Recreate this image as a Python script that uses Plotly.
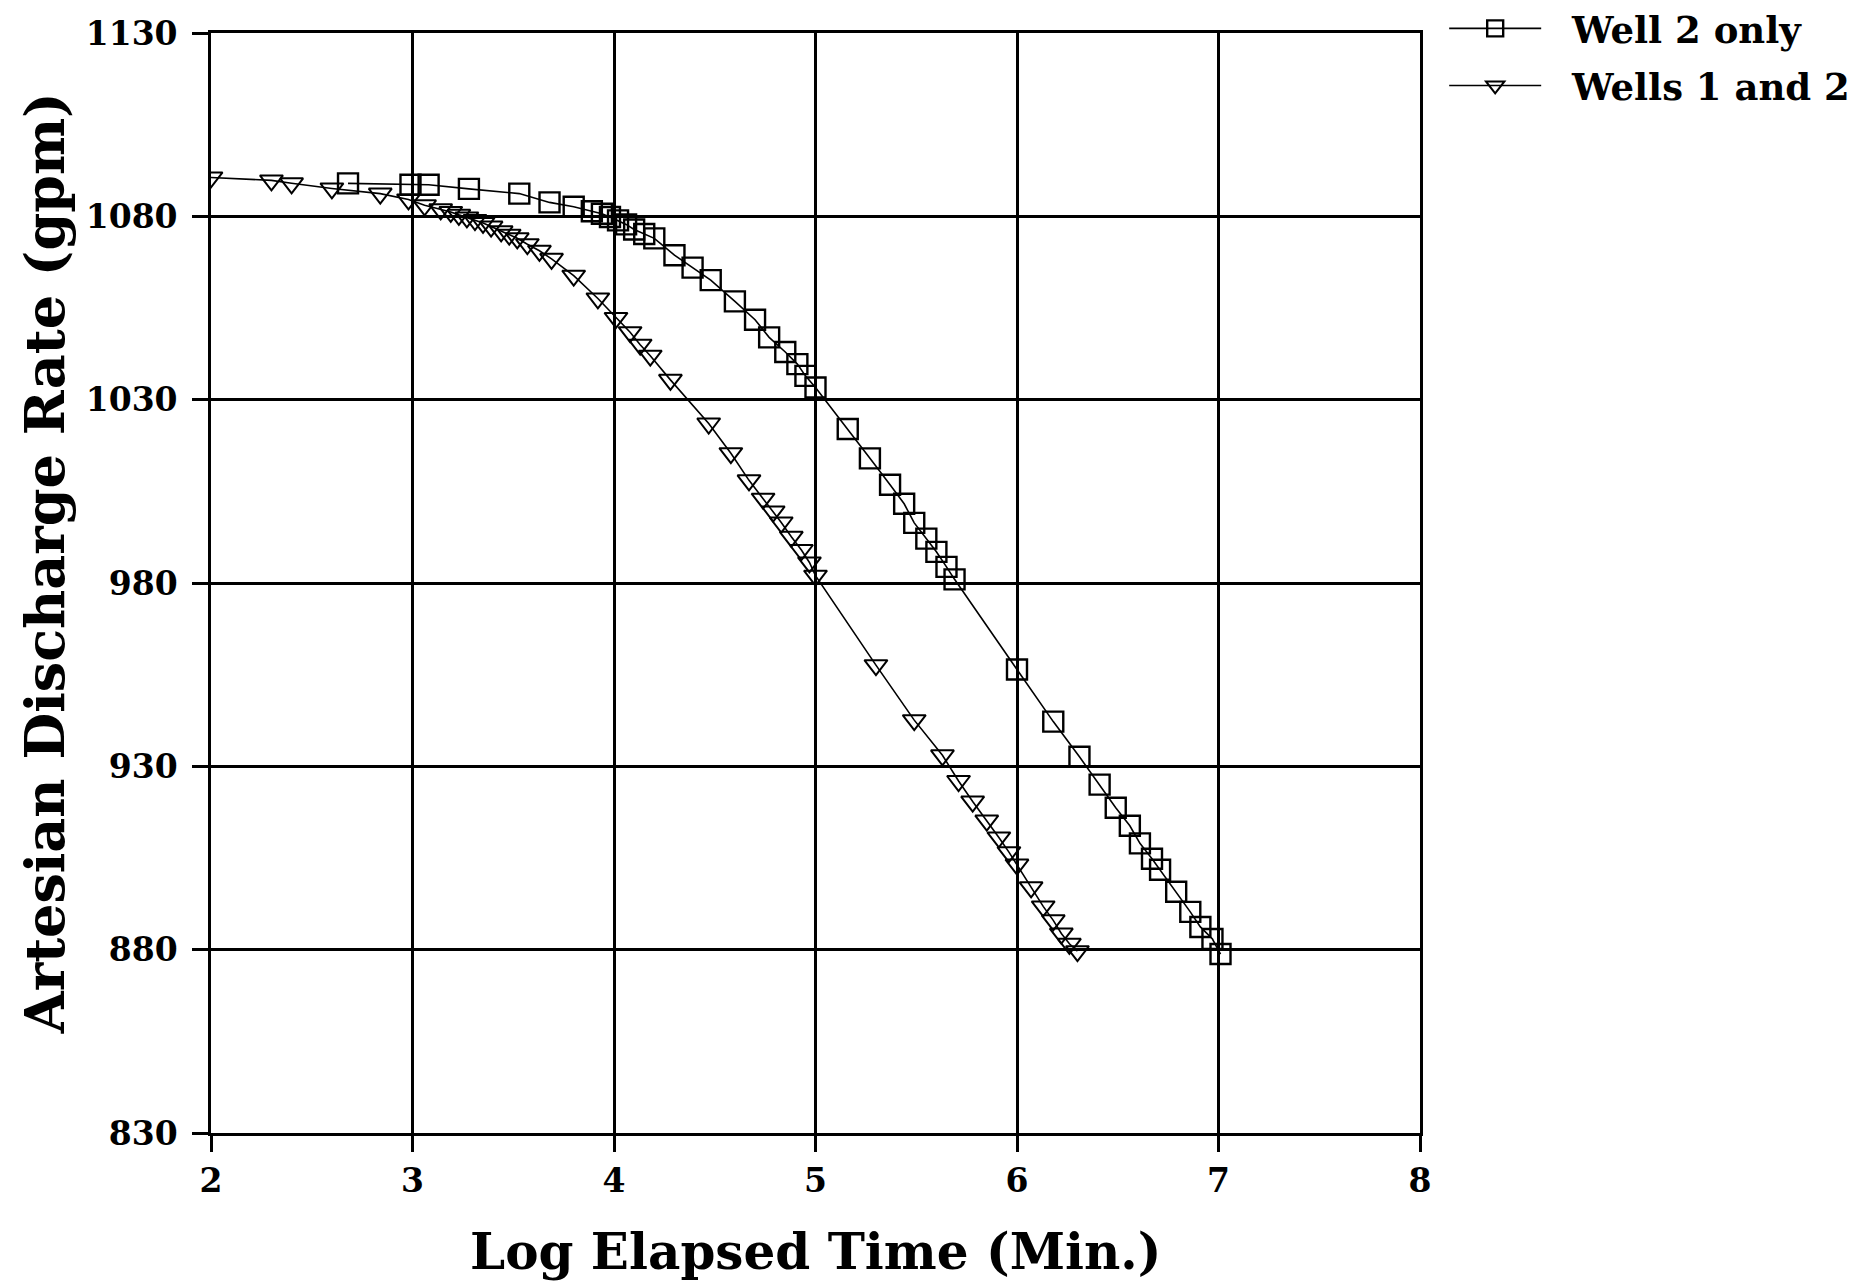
import plotly.graph_objects as go

# Log10 of elapsed time (minutes) and artesian discharge (gpm) per test
well2_log_time = [
    2.68, 2.99, 3.08, 3.28, 3.53, 3.68, 3.80, 3.89, 3.94, 3.98,
    4.02, 4.06, 4.10, 4.15, 4.20, 4.30, 4.39, 4.48, 4.60, 4.70,
    4.77, 4.85, 4.91, 4.95, 5.00, 5.16, 5.27, 5.37, 5.44, 5.49,
    5.55, 5.60, 5.65, 5.69, 6.00, 6.18, 6.31, 6.41, 6.49, 6.56,
    6.61, 6.67, 6.71, 6.79, 6.86, 6.91, 6.97, 7.01,
]
well2_rate = [
    1089.0, 1088.6, 1088.6, 1087.5, 1086.2, 1083.8, 1082.6, 1081.4, 1080.7, 1079.8,
    1078.9, 1077.8, 1076.4, 1075.2, 1074.0, 1069.4, 1066.0, 1062.6, 1056.8, 1051.8,
    1047.0, 1043.0, 1039.7, 1036.5, 1033.3, 1022.0, 1014.0, 1006.8, 1001.6, 996.4,
    992.1, 988.5, 984.4, 981.0, 956.4, 942.2, 932.6, 925.0, 918.7, 913.8,
    909.0, 904.8, 901.8, 895.8, 890.3, 886.2, 882.9, 878.8,
]

wells12_log_time = [
    2.00, 2.30, 2.40, 2.60, 2.84, 2.98, 3.06, 3.14, 3.19, 3.23,
    3.27, 3.31, 3.35, 3.39, 3.44, 3.48, 3.52, 3.57, 3.63, 3.69,
    3.80, 3.92, 4.01, 4.08, 4.13, 4.18, 4.28, 4.47, 4.58, 4.67,
    4.74, 4.79, 4.83, 4.88, 4.93, 4.97, 5.00, 5.30, 5.49, 5.63,
    5.71, 5.78, 5.85, 5.91, 5.96, 6.00, 6.07, 6.13, 6.18, 6.22,
    6.26, 6.30,
]
wells12_rate = [
    1090.6, 1089.8, 1089.0, 1087.6, 1086.2, 1084.6, 1083.0, 1081.9, 1081.2, 1080.4,
    1079.7, 1079.0, 1078.2, 1077.2, 1075.9, 1075.0, 1074.0, 1072.4, 1070.6, 1068.4,
    1063.8, 1057.6, 1052.3, 1048.4, 1045.0, 1042.0, 1035.4, 1023.5, 1015.4, 1008.0,
    1003.0, 999.5, 996.5, 992.6, 989.0, 985.6, 982.0, 957.6, 942.6, 933.0,
    926.0, 920.4, 915.2, 910.6, 906.6, 903.2, 897.0, 891.8, 888.0, 884.4,
    881.6, 879.6,
]

x_ticks = [2, 3, 4, 5, 6, 7, 8]
y_ticks = [830, 880, 930, 980, 1030, 1080, 1130]

x_title = "Log Elapsed Time (Min.)"
y_title = "Artesian Discharge Rate (gpm)"

FONT = "DejaVu Serif"
NBSP = "\u00a0"

fig = go.Figure()
fig.add_trace(go.Scatter(
    x=well2_log_time, y=well2_rate, name=NBSP * 2 + "Well 2 only",
    legendgroup="well2",
    mode="lines+markers",
    line=dict(color="black", width=1.6),
    marker=dict(symbol="square-open", size=20, color="black",
                line=dict(color="black", width=2.4)),
))
fig.add_trace(go.Scatter(
    x=wells12_log_time, y=wells12_rate, name=NBSP * 2 + "Wells 1 and 2",
    legendgroup="wells12",
    mode="lines+markers",
    line=dict(color="black", width=1.6),
    marker=dict(symbol="triangle-down-open", size=20, color="black",
                line=dict(color="black", width=2)),
))

axis_common = dict(
    showgrid=True, gridcolor="black", gridwidth=2.6,
    showline=True, linecolor="black", linewidth=2.6, mirror=True,
    ticks="outside", ticklen=16, tickwidth=2.6, tickcolor="black",
    zeroline=False,
    tickfont=dict(family=FONT, size=33, color="black", weight="bold"),
    automargin=False,
)

fig.update_xaxes(
    range=[2, 8], tickvals=x_ticks, ticktext=[str(v) for v in x_ticks],
    ticklabelstandoff=1,
    **axis_common,
)
fig.update_yaxes(
    range=[830, 1130], tickvals=y_ticks, ticktext=[str(v) for v in y_ticks],
    ticklabelstandoff=8,
    **axis_common,
)

title_font = dict(family=FONT, color="black", weight="bold")
fig.add_annotation(
    text=x_title, xref="paper", yref="paper", x=0.5, y=-0.1073,
    xanchor="center", yanchor="middle", showarrow=False,
    font=dict(size=50, **title_font),
)
fig.add_annotation(
    text=y_title, xref="paper", yref="paper", x=-0.1373, y=0.518,
    xanchor="center", yanchor="middle", showarrow=False, textangle=-90,
    font=dict(size=54, **title_font),
)

fig.update_layout(
    width=1860, height=1281,
    margin=dict(l=211, r=440, t=33, b=148, autoexpand=False),
    paper_bgcolor="white", plot_bgcolor="white",
    showlegend=True,
    legend=dict(
        x=1.02, xanchor="left", y=1.032, yanchor="top",
        font=dict(family=FONT, size=37, color="black", weight="bold"),
        itemwidth=92, tracegroupgap=6, traceorder="grouped",
        bgcolor="rgba(0,0,0,0)", borderwidth=0,
    ),
)

fig.write_html("out.html")
